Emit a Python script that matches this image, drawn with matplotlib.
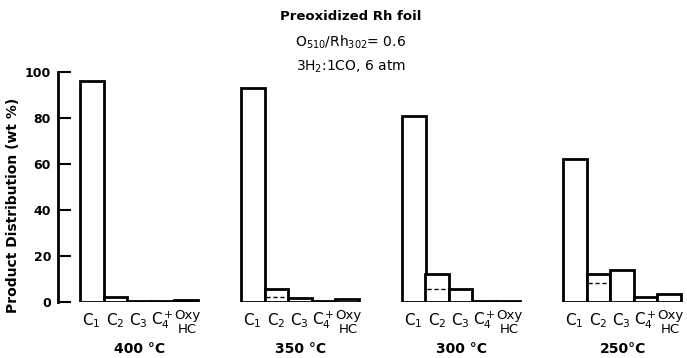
import matplotlib
matplotlib.use("Agg")
import matplotlib.pyplot as plt
import numpy as np

# Product distribution (wt %) over Rh foil at four temperatures
temperatures = ["400 °C", "350 °C", "300 °C", "250°C"]
products = ["C$_1$", "C$_2$", "C$_3$", "C$_4^+$", "Oxy\nHC"]
dist_400 = [96, 2, 0.5, 0.3, 1.0]
dist_350 = [93, 5.5, 1.7, 0.3, 1.2]
dist_300 = [81, 12, 5.6, 0.5, 0.5]
dist_250 = [62, 12, 13.8, 2.2, 3.5]
# olefinic part of the C2 fraction (dashed division)
c2_split = [None, 2.2, 5.8, 8.2]

series = [dist_400, dist_350, dist_300, dist_250]
yticks = [0, 20, 40, 60, 80, 100]

W, H = 687, 358
fig = plt.figure(figsize=(W / 100, H / 100), dpi=100)
ax_left, ax_right, y0, y100 = 58, 687, 302, 72
ax = fig.add_axes([ax_left / W, (H - y0) / H, (ax_right - ax_left) / W, (y0 - y100) / H])

bar_px = 23.5
panel_px = 161
first_px = 80
ax.set_xlim(0, (ax_right - ax_left) / bar_px)
ax.set_ylim(0, 100)

for p, vals in enumerate(series):
    start = (first_px - ax_left + p * panel_px) / bar_px
    xs = start + np.arange(len(vals)) + 0.5
    ax.bar(xs, vals, width=1.0, bottom=0, color="white", edgecolor="black",
           linewidth=2.0, zorder=2)
    if c2_split[p] is not None:
        ax.hlines(c2_split[p], xs[1] - 0.45, xs[1] + 0.45, colors="black",
                  linestyles=(0, (3, 2)), linewidth=1.0, zorder=3)
    for i, lab in enumerate(products):
        if "\n" in lab:
            top, bot = lab.split("\n")
            ax.text(xs[i] + 0.05, -6.0, top, ha="center", va="center",
                    fontsize=9.5, clip_on=False)
            ax.text(xs[i] + 0.05, -12.0, bot, ha="center", va="center",
                    fontsize=9.5, clip_on=False)
        else:
            ax.text(xs[i], -8.0, lab, ha="center", va="center",
                    fontsize=11, clip_on=False)
    ax.text(start + 2.55, -20.5, temperatures[p], ha="center", va="center",
            fontsize=10, fontweight="bold", clip_on=False)

# left axis only
for side in ["top", "right", "bottom"]:
    ax.spines[side].set_visible(False)
ax.spines["left"].set_linewidth(2.0)
ax.set_xticks([])
ax.set_yticks(yticks)
ax.set_yticklabels([str(t) for t in yticks], fontsize=9, fontweight="bold")
ax.tick_params(axis="y", direction="in", length=9, width=1.5, pad=5)

fig.text(13 / W, 1 - 205 / H, "Product Distribution (wt %)", rotation=90,
         ha="center", va="center", fontsize=10, fontweight="bold")

fig.text(351 / W, 1 - 16 / H, "Preoxidized Rh foil", ha="center", va="center",
         fontsize=9.5, fontweight="bold")
fig.text(351 / W, 1 - 42 / H, r"O$_{510}$/Rh$_{302}$= 0.6", ha="center",
         va="center", fontsize=10)
fig.text(351 / W, 1 - 67 / H, r"3H$_2$:1CO, 6 atm", ha="center", va="center",
         fontsize=10)

fig.savefig("out.png", dpi=100)
